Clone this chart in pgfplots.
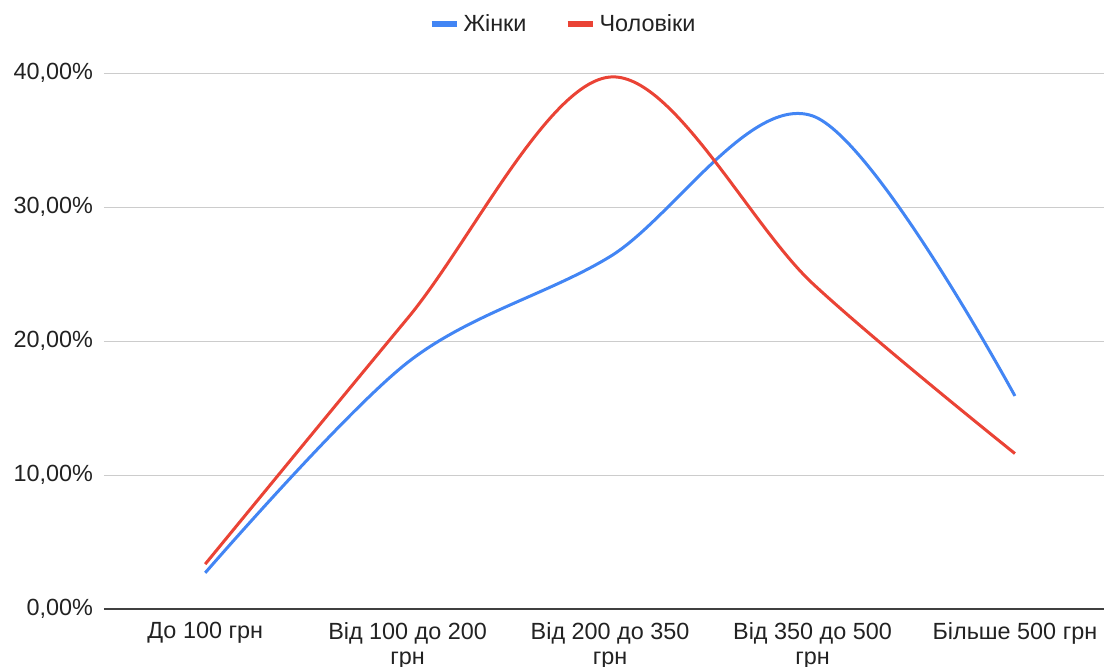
\documentclass[border=0pt]{standalone}
\usepackage{pgfplots}
\pgfplotsset{compat=1.18}
\usepackage{fontspec}
\setmainfont{Liberation Sans}
\definecolor{gblue}{HTML}{4285F4}
\definecolor{gred}{HTML}{EA4335}
\definecolor{txt}{HTML}{222222}
\begin{document}
\begin{tikzpicture}
\begin{axis}[
  name=ax,
  scale only axis,
  width=500pt, height=268pt,
  xmin=-0.5, xmax=4.44,
  ymin=0, ymax=40,
  axis line style={draw=none},
  axis x line*=bottom,
  axis y line*=left,
  xtick={0,1,2,3,4},
  xticklabels={До 100 грн, Від 100 до 200\\грн, Від 200 до 350\\грн, Від 350 до 500\\грн, Більше 500 грн},
  xticklabel style={align=center, font=\fontsize{11.7}{12.5}\selectfont, text=txt, yshift=-3pt},
  ytick={0,10,20,30,40},
  yticklabel={\pgfmathprintnumber{\tick}\%},
  yticklabel style={/pgf/number format/use comma, /pgf/number format/fixed, /pgf/number format/fixed zerofill, /pgf/number format/precision=2, /pgf/number format/assume math mode=true, font=\fontsize{11.7}{13}\selectfont, text=txt, xshift=-2pt},
  major tick length=0pt,
  ymajorgrids,
  grid style={draw=black!20, line width=0.5pt},
  clip=false,
  legend style={at={(0.46,1.091)}, anchor=center, draw=none, fill=none,
    font=\fontsize{11.7}{13}\selectfont, text=txt, legend columns=2,
    /tikz/every even column/.append style={column sep=17pt}},
  legend image code/.code={\draw[#1, line width=3pt] (0,0) -- (12.5pt,0);},
]
\addplot[gblue, line width=1.5pt, smooth, tension=0.55] coordinates {
  (0,2.7) (1,18.4) (2,26.3) (3,36.8) (4,15.9)
};
\addlegendentry{Жінки}
\addplot[gred, line width=1.5pt, smooth, tension=0.55] coordinates {
  (0,3.35) (1,21.7) (2,39.7) (3,24.3) (4,11.6)
};
\addlegendentry{Чоловіки}
\draw[black!75, line width=0.8pt] (axis cs:-0.5,0) -- (axis cs:4.44,0);
\end{axis}
\pgfresetboundingbox
\useasboundingbox ([shift={(-52pt,-28.5pt)}]ax.south west) rectangle ([shift={(500pt,304.5pt)}]ax.south west);
\end{tikzpicture}
\end{document}
